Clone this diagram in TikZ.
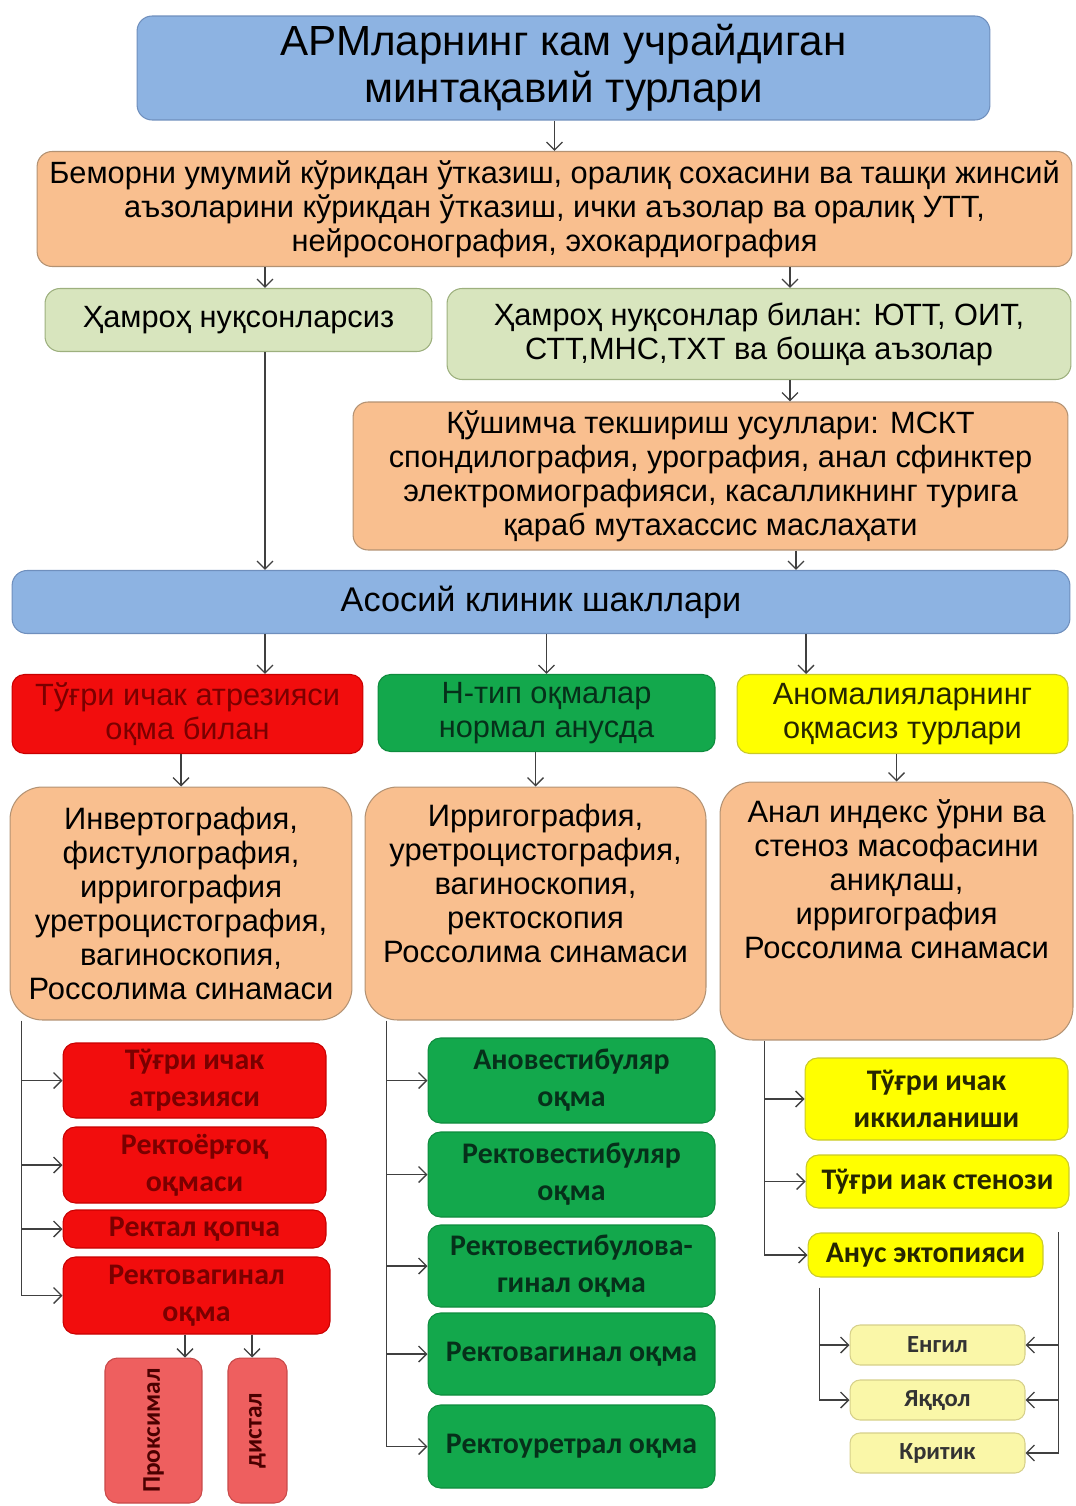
\documentclass[tikz,border=0pt]{standalone}
\usepackage{fontspec}
\setmainfont{Liberation Sans}
\newfontfamily\calib{Carlito}
\usepackage{xcolor}
\usetikzlibrary{arrows.meta}

\definecolor{skyfill}{HTML}{8DB3E2}
\definecolor{skyline}{HTML}{6F8FBD}
\definecolor{peachfill}{HTML}{F9BF8F}
\definecolor{peachline}{HTML}{B39273}
\definecolor{mintfill}{HTML}{D8E5BE}
\definecolor{mintline}{HTML}{9DB07E}
\definecolor{redfill}{HTML}{F20D0D}
\definecolor{redline}{HTML}{C80000}
\definecolor{redtext}{HTML}{7A0000}
\definecolor{greenfill}{HTML}{13A84C}
\definecolor{greenline}{HTML}{0E8C3D}
\definecolor{greentext}{HTML}{06301A}
\definecolor{yellowfill}{HTML}{FFFF00}
\definecolor{yellowline}{HTML}{C9C92A}
\definecolor{yellowtext}{HTML}{262600}
\definecolor{paleyfill}{HTML}{FAF7A8}
\definecolor{paleyline}{HTML}{D6D08A}
\definecolor{paleytext}{HTML}{333333}
\definecolor{pinkfill}{HTML}{EE5F5F}
\definecolor{pinkline}{HTML}{C84848}
\definecolor{pinktext}{HTML}{4A0000}
\definecolor{linegray}{HTML}{404040}

\newcommand\sizeTitle{\fontsize{24}{26.7}\selectfont}
\newcommand\sizeHead{\fontsize{19.5}{21}\selectfont}
\newcommand\sizeBody{\fontsize{17.5}{19.3}\selectfont}
\newcommand\sizeExam{\fontsize{17.6}{19.3}\selectfont}
\newcommand\sizeSub{\calib\bfseries\fontsize{17}{21}\selectfont}
\newcommand\sizeSmall{\calib\bfseries\fontsize{14}{17}\selectfont}
\newcommand\sizeSide{\calib\bfseries\fontsize{14.5}{17}\selectfont}

\begin{document}
\begin{tikzpicture}[x=0.02cm, y=-0.02cm]
    \tikzset{arrow/.style = {-{Straight Barb[length=1.6mm,width=3.2mm]}, draw=linegray, line width=0.75pt}}
    \tikzset{box/.style = {rounded corners=0.3cm, align=center, inner sep=0pt, line width=0.6pt}}
    \tikzset{skybox/.style = {box, fill=skyfill, draw=skyline}}
    \tikzset{peachbox/.style = {box, fill=peachfill, draw=peachline}}
    \tikzset{mintbox/.style = {box, fill=mintfill, draw=mintline}}
    \tikzset{redbox/.style = {box, rounded corners=0.25cm, fill=redfill, draw=redline, text=redtext}}
    \tikzset{greenbox/.style = {box, rounded corners=0.25cm, fill=greenfill, draw=greenline, text=greentext}}
    \tikzset{yellowbox/.style = {box, rounded corners=0.25cm, fill=yellowfill, draw=yellowline, text=yellowtext}}
    \tikzset{paleybox/.style = {box, rounded corners=0.2cm, fill=paleyfill, draw=paleyline, text=paleytext}}
    \tikzset{pinkbox/.style = {box, rounded corners=0.25cm, fill=pinkfill, draw=pinkline, text=pinktext}}

    \useasboundingbox (0, 0) rectangle (1075, 1506);

    % title and first examination
    \node[skybox, minimum width=17.06cm, minimum height=2.08cm, font=\sizeTitle] (top) at (563.5, 68)
        {АРМларнинг кам учрайдиган\\минтақавий турлари};
    \node[peachbox, minimum width=20.7cm, minimum height=2.3cm, font=\sizeBody] (exam1) at (554.5, 209)
        {Беморни умумий кўрикдан ўтказиш, оралиқ сохасини ва ташқи жинсий\\аъзоларини кўрикдан ўтказиш, ички аъзолар ва оралиқ УТТ,\\нейросонография, эхокардиография};

    % associated defects
    \node[mintbox, minimum width=7.74cm, minimum height=1.26cm, font=\sizeBody] (nofx) at (238.5, 320)
        {Ҳамроҳ нуқсонларсиз};
    \node[mintbox, minimum width=12.48cm, minimum height=1.82cm, font=\sizeBody] (withfx) at (759, 334)
        {Ҳамроҳ нуқсонлар билан: ЮТТ, ОИТ,\\СТТ,МНС,ТХТ ва бошқа аъзолар};
    \node[peachbox, minimum width=14.3cm, minimum height=2.96cm, font=\sizeBody] (exam2) at (710.5, 476)
        {Қўшимча текшириш усуллари: МСКТ\\спондилография, урография, анал сфинктер\\электромиографияси, касалликнинг турига\\қараб мутахассис маслаҳати};
    \node[skybox, minimum width=21.16cm, minimum height=1.26cm, font=\sizeHead] (clin) at (541, 602)
        {Асосий клиник шакллари};

    \coordinate (n1) at ([xshift=0.53cm]nofx.north);
    \coordinate (f1) at ([xshift=0.62cm]withfx.north);
    \coordinate (e2) at ([xshift=1.71cm]exam2.south);
    \draw[arrow] (exam1.north |- top.south) -- (exam1.north);
    \draw[arrow] (n1 |- exam1.south) -- (n1);
    \draw[arrow] (f1 |- exam1.south) -- (f1);
    \draw[arrow] (f1 |- withfx.south) -- (f1 |- exam2.north);
    \draw[arrow] (n1 |- nofx.south) -- (n1 |- clin.north);
    \draw[arrow] (e2) -- (e2 |- clin.north);

    % three clinical forms
    \node[redbox, minimum width=7.02cm, minimum height=1.58cm, font=\sizeBody] (redhead) at (187.5, 714)
        {Тўғри ичак атрезияси\\оқма билан};
    \node[greenbox, minimum width=6.74cm, minimum height=1.54cm, font=\sizeBody] (greenhead) at (546.5, 713)
        {Н-тип оқмалар\\нормал анусда};
    \node[yellowbox, minimum width=6.62cm, minimum height=1.58cm, font=\sizeBody] (yellowhead) at (902.5, 714)
        {Аномалияларнинг\\оқмасиз турлари};

    \coordinate (h1) at ([xshift=1.55cm]redhead.north);
    \coordinate (h3) at ([xshift=-1.93cm]yellowhead.north);
    \draw[arrow] (h1 |- clin.south) -- (h1);
    \draw[arrow] (greenhead.north |- clin.south) -- (greenhead.north);
    \draw[arrow] (h3 |- clin.south) -- (h3);

    % examinations for each form
    \node[peachbox, rounded corners=0.65cm, minimum width=6.84cm, minimum height=4.66cm, font=\sizeExam] (redexam) at (181, 903.5)
        {Инвертография,\\фистулография,\\ирригография\\уретроцистография,\\вагиноскопия,\\Россолима синамаси};
    \node[peachbox, rounded corners=0.65cm, minimum width=6.82cm, minimum height=4.66cm, font=\sizeExam] (greenexam) at (535.5, 903.5)
        {\parbox[c][3.98cm][t]{6.6cm}{\centering Ирригография,\\уретроцистография,\\вагиноскопия,\\ректоскопия\\Россолима синамаси}};
    \node[peachbox, rounded corners=0.65cm, minimum width=7.06cm, minimum height=5.16cm, font=\sizeExam] (yellowexam) at (896.5, 911)
        {\parbox[c][4.44cm][t]{6.9cm}{\centering Анал индекс ўрни ва\\стеноз масофасини\\аниқлаш,\\ирригография\\Россолима синамаси}};

    \draw[arrow] (redexam.north |- redhead.south) -- (redexam.north);
    \draw[arrow] (greenexam.north |- greenhead.south) -- (greenexam.north);
    \draw[arrow] (yellowexam.north |- yellowhead.south) -- (yellowexam.north);

    % atresia with fistula
    \node[redbox, minimum width=5.26cm, minimum height=1.5cm, font=\sizeSub] (r1) at (194.5, 1080.5)
        {Тўғри ичак\\атрезияси};
    \node[redbox, minimum width=5.26cm, minimum height=1.52cm, font=\sizeSub] (r2) at (194.5, 1165)
        {Ректоёрғоқ\\оқмаси};
    \node[redbox, minimum width=5.26cm, minimum height=0.76cm, font=\sizeSub] (r3) at (194.5, 1229)
        {Ректал қопча};
    \node[redbox, minimum width=5.34cm, minimum height=1.54cm, font=\sizeSub] (r4) at (196.5, 1295.5)
        {Ректовагинал\\оқма};
    \node[pinkbox, minimum width=1.94cm, minimum height=2.9cm, font=\sizeSide] (prox) at (153.5, 1430.5)
        {\rotatebox{90}{Проксимал}};
    \node[pinkbox, minimum width=1.18cm, minimum height=2.9cm, font=\sizeSide] (dist) at (257.5, 1430.5)
        {\rotatebox{90}{дистал}};

    \coordinate (rb) at ([xshift=0.24cm]redexam.south west);
    \draw[arrow] (rb) |- (r4);
    \foreach \b in {r1, r2, r3}
        \draw[arrow] (rb |- \b) -- (\b);
    \coordinate (pa) at ([xshift=0.63cm]prox.north);
    \coordinate (da) at ([xshift=-0.11cm]dist.north);
    \draw[arrow] (pa |- r4.south) -- (pa);
    \draw[arrow] (da |- r4.south) -- (da);

    % H-type fistulas
    \node[greenbox, minimum width=5.74cm, minimum height=1.7cm, font=\sizeSub] (g1) at (571.5, 1080.5)
        {Ановестибуляр\\оқма};
    \node[greenbox, minimum width=5.74cm, minimum height=1.7cm, font=\sizeSub] (g2) at (571.5, 1174.5)
        {Ректовестибуляр\\оқма};
    \node[greenbox, minimum width=5.74cm, minimum height=1.64cm, font=\sizeSub] (g3) at (571.5, 1266)
        {Ректовестибулова-\\гинал оқма};
    \node[greenbox, minimum width=5.74cm, minimum height=1.64cm, font=\sizeSub] (g4) at (571.5, 1354)
        {Ректовагинал оқма};
    \node[greenbox, minimum width=5.74cm, minimum height=1.66cm, font=\sizeSub] (g5) at (571.5, 1446.5)
        {Ректоуретрал оқма};

    \coordinate (gb) at ([xshift=0.44cm]greenexam.south west);
    \draw[arrow] (gb) |- (g5);
    \foreach \b in {g1, g2, g3, g4}
        \draw[arrow] (gb |- \b) -- (\b);

    % forms without fistula
    \node[yellowbox, minimum width=5.26cm, minimum height=1.64cm, font=\sizeSub] (y1) at (936.5, 1099)
        {Тўғри ичак\\иккиланиши};
    \node[yellowbox, minimum width=5.26cm, minimum height=1.06cm, font=\sizeSub] (y2) at (937.5, 1181.5)
        {Тўғри иак стенози};
    \node[yellowbox, minimum width=4.7cm, minimum height=0.88cm, font=\sizeSub] (y3) at (925.5, 1255)
        {Анус эктопияси};

    \coordinate (yb) at ([xshift=0.9cm]yellowexam.south west);
    \draw[arrow] (yb) |- (y3);
    \foreach \b in {y1, y2}
        \draw[arrow] (yb |- \b) -- (\b);

    % ectopia degrees
    \node[paleybox, minimum width=3.5cm, minimum height=0.8cm, font=\sizeSmall] (s1) at (937.5, 1345) {Енгил};
    \node[paleybox, minimum width=3.5cm, minimum height=0.8cm, font=\sizeSmall] (s2) at (937.5, 1400) {Яққол};
    \node[paleybox, minimum width=3.5cm, minimum height=0.8cm, font=\sizeSmall] (s3) at (937.5, 1453) {Критик};

    \coordinate (al) at ([xshift=0.24cm, yshift=-0.2cm]y3.south west);
    \coordinate (ar) at ([xshift=0.3cm]y3.north east);
    \draw[arrow] (al) |- (s2);
    \draw[arrow] (al |- s1) -- (s1);
    \draw[arrow] (ar) |- (s3);
    \draw[arrow] (ar |- s1) -- (s1);
    \draw[arrow] (ar |- s2) -- (s2);
\end{tikzpicture}
\end{document}
